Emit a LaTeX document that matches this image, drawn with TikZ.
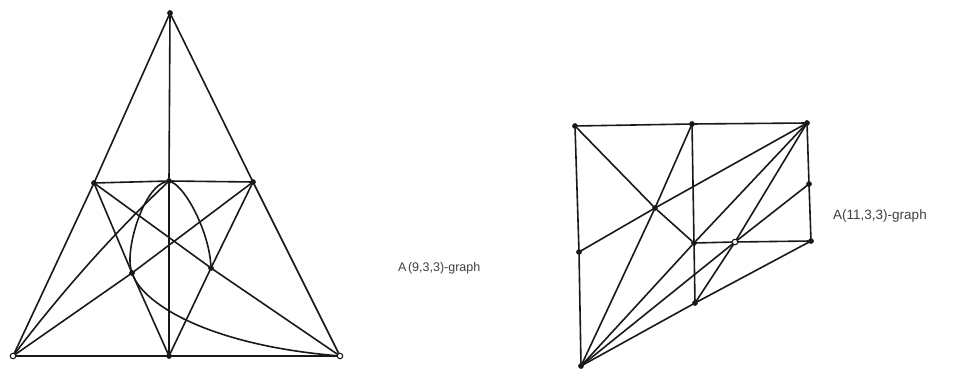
\documentclass[tikz,border=0pt]{standalone}
\usepackage{fontspec}
\setmainfont{Liberation Sans}
\begin{document}
\begin{tikzpicture}[x=1pt,y=-1pt,
  color=black!90,
  edge/.style={line width=1.6pt, line join=round, line cap=round},
  dot/.style={circle, fill=black!90, draw=black!90, line width=0.6pt, inner sep=0pt, minimum size=5pt},
  ring/.style={circle, fill=white, draw=black!90, line width=1.1pt, inner sep=0pt, minimum size=5.5pt},
  lbl/.style={anchor=west, inner sep=0pt, font=\fontsize{12.5}{14}\selectfont, text=black!75}]
\fill[white] (0,0) rectangle (965,371);
\useasboundingbox (0,0) rectangle (965,371);
% ---------- left graph ----------
\node[dot]  (T)  at (170,13) {};
\node[dot]  (ML) at (94,183) {};
\node[dot]  (MM) at (169,181) {};
\node[dot]  (MR) at (253,182) {};
\node[dot]  (P1) at (132,273) {};
\node[dot]  (P2) at (211,268) {};
\node[ring] (BL) at (13,356) {};
\node[dot]  (BM) at (169,356) {};
\node[ring] (BR) at (340,356) {};
\begin{scope}[edge]
\draw (T) -- (ML) -- (BL);
\draw (T) -- (MR) -- (BR);
\draw (T) -- (MM) -- (BM);
\draw (ML) -- (MM) -- (MR);
\draw (BL) -- (BM) -- (BR);
\draw (ML) -- (P1) -- (BM);
\draw (MR) -- (P2) -- (BM);
\draw (ML) -- (P2) -- (BR);
\draw (MR) -- (P1) -- (BL);
\draw (BL) .. controls (60,294) and (112,235) .. (MM);
\draw (MM) .. controls (143,187) and (125,250) .. (P1)
           .. controls (145,305) and (210,345) .. (BR);
\draw (MM) .. controls (186,188) and (209,232) .. (P2);
\end{scope}
\node[lbl] (L1) at (398,268) {A\kern1.5pt(9,3,3)-graph};
% ---------- right graph ----------
\node[dot]  (A) at (575,126) {};
\node[dot]  (B) at (692,124) {};
\node[dot]  (C) at (807,123) {};
\node[dot]  (D) at (809,184) {};
\node[dot]  (E) at (811,241) {};
\node[ring] (F) at (735,242) {};
\node[dot]  (G) at (694,243) {};
\node[dot]  (H) at (655,208) {};
\node[dot]  (I) at (579,252) {};
\node[dot]  (J) at (695,303) {};
\node[dot]  (K) at (581,366) {};
\begin{scope}[edge]
\draw (A) -- (B) -- (C);
\draw (A) -- (I) -- (K);
\draw (B) -- (G) -- (J);
\draw (C) -- (D) -- (E);
\draw (G) -- (F) -- (E);
\draw (A) -- (H) -- (G);
\draw (B) -- (H) -- (K);
\draw (I) -- (H) -- (C);
\draw (K) -- (G) -- (C);
\draw (K) -- (F) -- (D);
\draw (K) -- (J) -- (E);
\draw (C) -- (F) -- (J);
\end{scope}
\node[lbl, font=\fontsize{13.5}{15}\selectfont] (L2) at (833,216) {A(11,3,3)-graph};
\end{tikzpicture}
\end{document}
